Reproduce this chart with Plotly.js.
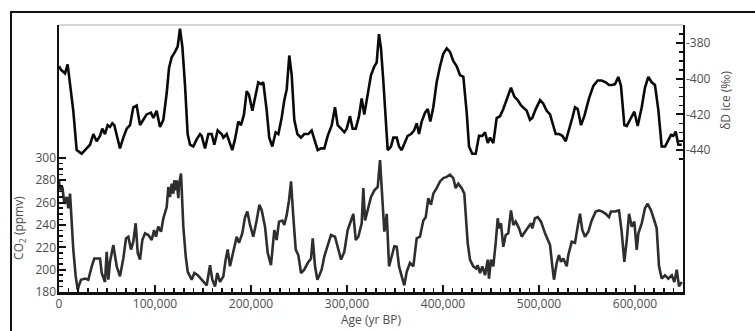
<!DOCTYPE html>
<html>
<head>
<meta charset="utf-8">
<script src="https://cdn.plot.ly/plotly-3.0.1.min.js"></script>
<style>html,body{margin:0;padding:0;background:#fff}#chart{width:755px;height:331px}</style>
</head>
<body>
<div id="chart"></div>
<script>
// Deuterium (δD ice, ‰) record
const dD_age = [0,2100,6300,9000,11500,14900,18400,23600,28800,32300,35800,39200,42700,45100,47900,50700,53100,55600,57600,60100,63500,67000,70500,74000,77400,80900,84400,87800,91300,95800,98300,101700,105200,108700,112200,114600,117400,120800,123600,126000,128500,131300,134000,136500,139900,143400,146900,148600,152100,155600,159000,161800,165300,169400,171200,174700,178100,180500,183300,186800,189600,192700,195500,197900,201400,204200,207600,210400,212800,216400,219000,222200,225700,228500,231900,234700,237200,239900,242400,245100,248300,252100,255500,259700,263200,266000,269500,272900,276400,279900,284100,287500,290300,293800,297200,299700,303100,305900,309100,312500,315300,318000,321600,325000,328500,330900,333300,335400,337800,340300,342400,345800,348300,351800,354200,357000,360400,363200,366700,369800,372600,375000,377800,381300,384100,386800,389900,393400,396900,400300,403900,407300,410700,414300,417700,421200,424700,427100,430500,434100,437500,441000,443800,446600,449000,452400,455900,459400,462800,466400,470800,474300,477800,481300,484700,487200,490600,493000,496600,501100,504500,508000,511500,514900,517400,520800,524300,527800,531300,534700,537500,540300,543800,547200,552100,556600,561200,565300,569500,572900,576400,579200,582600,585400,588900,591400,594800,599300,602800,607000,610400,613900,617400,620800,624300,627800,631300,634700,637500,639900,642400,645100,648700];
const dD_val = [-393,-395,-397,-392,-403,-418,-440,-442,-439,-437,-431,-435,-432,-428,-431,-426,-427,-425,-426,-431,-439,-433,-428,-426,-416,-415,-426,-423,-420,-419,-422,-418,-427,-423,-408,-394,-388,-385,-382,-372,-382,-404,-431,-437,-438,-434,-431,-432,-439,-431,-431,-437,-429,-431,-433,-431,-436,-440,-434,-424,-426,-420,-407,-409,-418,-410,-402,-403,-402,-418,-433,-438,-430,-431,-422,-412,-406,-387,-398,-423,-431,-433,-431,-431,-429,-434,-440,-439,-439,-432,-426,-416,-426,-428,-430,-428,-421,-428,-428,-421,-411,-420,-409,-398,-393,-391,-375,-383,-401,-421,-440,-438,-433,-433,-438,-440,-436,-432,-431,-429,-425,-431,-424,-419,-417,-424,-416,-402,-393,-386,-383,-385,-390,-393,-398,-399,-419,-438,-442,-442,-432,-432,-430,-436,-433,-436,-422,-421,-417,-411,-405,-410,-412,-415,-417,-418,-423,-422,-417,-412,-414,-418,-420,-427,-431,-431,-432,-435,-429,-422,-416,-417,-426,-421,-411,-404,-401,-401,-402,-403.5,-403.5,-403,-399,-404,-426,-426.5,-423,-418.5,-426.5,-416,-405,-399,-402,-403.5,-417.5,-438,-438,-434,-431.5,-432,-429.6,-437,-437];

// CO2 (ppmv) record
const co2_age = [0,1000,3500,5600,8000,9700,11500,13200,14900,17400,19500,20800,22900,27100,30500,34100,36800,42700,44500,47900,49700,51400,53100,56600,60100,63500,67000,69800,72200,75000,77400,79900,82000,84400,86800,89600,93000,96600,99000,101000,103400,106300,108700,112200,113900,115600,117400,119100,120100,121600,122600,124300,125000,127100,129500,132000,134100,136500,138200,141000,144500,148600,153900,157300,159700,162500,164900,167700,171200,173600,175700,178100,181600,185100,187500,190900,193800,196200,199000,202400,205900,208700,211200,214600,217400,220800,224300,226700,229200,232600,234700,237200,239600,241700,244100,246600,249300,252100,255500,259100,262500,264300,266700,269100,271200,273600,276400,279900,283300,287500,290300,293800,297200,300700,304200,306600,309100,311800,315300,317000,318800,321600,325000,328500,332000,334400,336800,338900,341400,343800,346600,349300,351800,354200,357000,359700,362200,365600,369100,372600,376000,379500,382000,384700,387500,389900,393400,396900,400300,403900,407300,410700,413200,415900,419500,422200,425700,428100,431500,434500,436100,438600,441000,443800,446600,447900,450000,452400,454900,457000,458300,460400,462800,465300,468000,470800,473300,475700,479200,482000,485400,488900,491700,493000,495800,498700,502100,506300,511500,513900,515600,518400,520800,522900,525300,528900,530500,534100,537500,540300,542700,545100,547900,551400,554900,559100,562500,566000,569500,572900,575000,579200,583300,586100,588900,591400,593800,596600,599300,601800,603500,607000,610400,613200,616700,620100,622600,625000,627800,631300,634700,638300,641000,643500,645800,648700];
const co2_val = [280,271,274,259,265,255,268,238,218,194,182,186,191,192,191,203,210,210,197,189,216,191,207,222,203,194,210,228,229.5,218,225,241.5,215,209,226.5,232.5,231,226.5,235.5,229.5,238.5,234,246,256,274,265,277,268,280,271,280,264,276,286,238.5,212,198,194,191,197,195,191,186,204,191,185,197,189,194,209,218,203,215,229.5,224,232.5,247,252,240,229.5,244,258,253,238.5,215,204,235.5,226.5,243,244,240,249,262,279,247,218,213,197,200,206,210,228,203,191,195,200,212,222,231,229.5,220.5,209,216,235.5,244,250,226.5,229.5,241.5,273,244,253,265,271,274,298,262,234,250,203,212,221,220.5,203,194,186,198,206,203,228,229.5,244,247,264,258,268,273,279,282,283,285,282,273,277,273,268,224,209,203,201,204,197,203,195,209,192,209,203,224,246,237,241.5,220.5,231,232.5,253,240,243,237,229.5,234,238.5,241.5,237,246,247,243,232.5,222,203,191,206,213,207,210,203,213,225,224,238.5,250,235.5,229.5,234,244,252,253,252,250,247,252,252,253,234,207,226.5,250,238.5,243,217.6,232.5,241.5,255,259,253,244,237,203,192,195,192,195,189,200,185,189];

// Axis ticks
const x_ticks = [0,100000,200000,300000,400000,500000,600000];
const x_ticktext = ["0","100,000","200,000","300,000","400,000","500,000","600,000"];
const x_minor = [10000,20000,30000,40000,50000,60000,70000,80000,90000,110000,120000,130000,140000,150000,160000,170000,180000,190000,210000,220000,230000,240000,250000,260000,270000,280000,290000,310000,320000,330000,340000,350000,360000,370000,380000,390000,410000,420000,430000,440000,450000,460000,470000,480000,490000,510000,520000,530000,540000,550000,560000,570000,580000,590000,610000,620000,630000,640000];
const co2_ticks = [180,200,220,240,260,280,300];
const co2_minor = [185,190,195,205,210,215,225,230,235,245,250,255,265,270,275,285,290,295];
const dD_ticks = [-380,-400,-420,-440];
const dD_ticktext = ["-380","-400","-420","-440"];
const dD_minor = [-375,-385,-390,-395,-405,-410,-415,-425,-430,-435,-445];

const tickFont = {family: "Open Sans, sans-serif", size: 12, color: "#4d4d4d"};
const X_RANGE = [0, 650000], CO2_RANGE = [180, 419], DD_RANGE = [-519.5, -369.9];

const traces = [
  {x: co2_age, y: co2_val, type: "scatter", mode: "lines", xaxis: "x", yaxis: "y",
   line: {color: "#2e2e2e", width: 2.6}, hoverinfo: "skip"},
  {x: dD_age, y: dD_val, type: "scatter", mode: "lines", xaxis: "x", yaxis: "y2",
   line: {color: "#0a0a0a", width: 2.6}, hoverinfo: "skip"},
  // empty helper traces so that the major-tick axes get their subplots
  {x: [], y: [], type: "scatter", mode: "lines", xaxis: "x2", yaxis: "y3", hoverinfo: "skip"},
  {x: [], y: [], type: "scatter", mode: "lines", xaxis: "x2", yaxis: "y4", hoverinfo: "skip"}
];

const minorAxis = {ticks: "inside", ticklen: 4, tickwidth: 1.5, tickcolor: "#111",
  showticklabels: false, showgrid: false, zeroline: false, fixedrange: true};
const majorAxis = {ticks: "inside", ticklen: 7, tickwidth: 2, tickcolor: "#111",
  showline: false, showgrid: false, zeroline: false, fixedrange: true, tickfont: tickFont};

const layout = {
  width: 755, height: 331,
  margin: {l: 59, r: 72, t: 25, b: 39, pad: 0},
  paper_bgcolor: "#ffffff", plot_bgcolor: "rgba(0,0,0,0)",
  showlegend: false,
  font: tickFont,
  xaxis: Object.assign({}, minorAxis, {range: X_RANGE, tickmode: "array", tickvals: x_minor,
    showline: true, linecolor: "#111", linewidth: 2.5, anchor: "y"}),
  xaxis2: Object.assign({}, majorAxis, {range: X_RANGE, tickmode: "array", tickvals: x_ticks,
    ticktext: x_ticktext, overlaying: "x", side: "bottom", anchor: "y", ticklabelstandoff: 3}),
  yaxis: Object.assign({}, minorAxis, {range: CO2_RANGE, tickmode: "array", tickvals: co2_minor,
    showline: true, linecolor: "#111", linewidth: 2, anchor: "x"}),
  yaxis3: Object.assign({}, majorAxis, {range: CO2_RANGE, tickmode: "array", tickvals: co2_ticks,
    overlaying: "y", side: "left", anchor: "x", ticklabelstandoff: 2}),
  yaxis2: Object.assign({}, minorAxis, {range: DD_RANGE, tickmode: "array", tickvals: dD_minor,
    overlaying: "y", side: "right", anchor: "x", showline: true, linecolor: "#111", linewidth: 2}),
  yaxis4: Object.assign({}, majorAxis, {range: DD_RANGE, tickmode: "array", tickvals: dD_ticks,
    ticktext: dD_ticktext, overlaying: "y", side: "right", anchor: "x", ticklabelstandoff: 2}),
  shapes: [
    {type: "rect", xref: "paper", yref: "paper", x0: -0.0769, x1: 1.3, y0: -0.3, y1: 1.0487,
     line: {color: "#111", width: 2}, fillcolor: "rgba(0,0,0,0)", layer: "above"},
    {type: "line", xref: "paper", yref: "paper", x0: 0, x1: 1, y0: 1, y1: 1,
     line: {color: "#aaaaaa", width: 1}, layer: "above"}
  ],
  annotations: [
    {text: "CO<sub>2</sub> (ppmv)", xref: "paper", yref: "paper", x: -0.0641, y: 0.24,
     showarrow: false, textangle: -90, xanchor: "center", yanchor: "middle",
     font: {family: "Open Sans, sans-serif", size: 12, color: "#4d4d4d"}},
    {text: "δD ice (‰)", xref: "paper", yref: "paper", x: 1.067, y: 0.719,
     showarrow: false, textangle: -90, xanchor: "center", yanchor: "middle",
     font: {family: "Open Sans, sans-serif", size: 12, color: "#4d4d4d"}},
    {text: "Age (yr BP)", xref: "paper", yref: "paper", x: 0.5, y: -0.103,
     showarrow: false, xanchor: "center", yanchor: "middle",
     font: {family: "Open Sans, sans-serif", size: 12, color: "#4d4d4d"}}
  ]
};

Plotly.newPlot("chart", traces, layout, {staticPlot: true, displayModeBar: false});
</script>
</body>
</html>
